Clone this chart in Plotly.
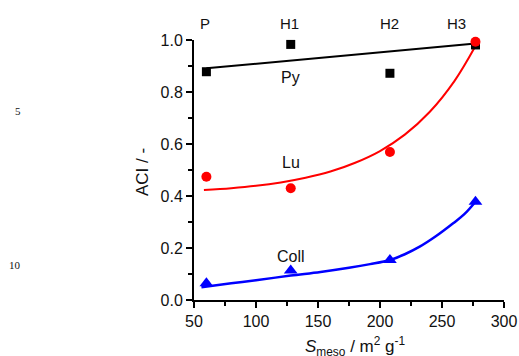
import plotly.graph_objects as go

# Measured points
samples_x = [60, 128, 208, 277]
py_vals = [0.878, 0.983, 0.872, 0.981]
lu_vals = [0.474, 0.430, 0.569, 0.993]
coll_vals = [0.064, 0.113, 0.154, 0.378]

# Fit curves
py_fit_x = [60, 277]
py_fit_y = [0.891, 0.987]
lu_fit_x = [58, 80, 100, 120, 140, 160, 180, 200, 220, 240, 260, 277]
lu_fit_y = [0.423, 0.430, 0.439, 0.452, 0.470, 0.494, 0.528, 0.573, 0.636, 0.723, 0.842, 0.977]
coll_fit_x = [56, 80, 100, 128, 152, 175, 192, 208, 220, 232, 245, 259, 268, 277]
coll_fit_y = [0.049, 0.064, 0.076, 0.094, 0.108, 0.124, 0.138, 0.154, 0.176, 0.205, 0.245, 0.295, 0.330, 0.378]

top_labels = ["P", "H1", "H2", "H3"]
top_label_x = [59, 127.4, 207.3, 262]
series_labels = ["Py", "Lu", "Coll"]
series_label_pos = [(128, 0.854), (128, 0.527), (128, 0.169)]

FONT = "Liberation Sans, Arial, sans-serif"
SERIF = "Liberation Serif, Times New Roman, serif"
BLUE = "#0000ff"
RED = "#ff0000"

# plot-area geometry in pixels (for converting label pixel positions)
L, R, T, B = 194, 15, 40, 56
W, H = 519, 356
PW, PH = W - L - R, H - T - B


def px_to_paper(px, py):
    return (px - L) / PW, (H - B - py) / PH


def x_to_paper(xv):
    return (xv - 50) / 250


fig = go.Figure()
fig.add_trace(go.Scatter(x=py_fit_x, y=py_fit_y, mode="lines",
                         line=dict(color="black", width=2), cliponaxis=False))
fig.add_trace(go.Scatter(x=lu_fit_x, y=lu_fit_y, mode="lines", line_shape="spline",
                         line=dict(color=RED, width=2), cliponaxis=False))
fig.add_trace(go.Scatter(x=coll_fit_x, y=coll_fit_y, mode="lines", line_shape="spline",
                         line=dict(color=BLUE, width=2.5), cliponaxis=False))
fig.add_trace(go.Scatter(x=samples_x, y=py_vals, mode="markers",
                         marker=dict(symbol="square", size=9, color="black"), cliponaxis=False))
fig.add_trace(go.Scatter(x=samples_x, y=lu_vals, mode="markers",
                         marker=dict(symbol="circle", size=10, color=RED), cliponaxis=False))
fig.add_trace(go.Scatter(x=samples_x, y=coll_vals, mode="markers",
                         marker=dict(symbol="triangle-up", size=12, color=BLUE), cliponaxis=False))

annotations = []


def ann(x, y, text, size, family=FONT, **kw):
    annotations.append(dict(x=x, y=y, xref="paper", yref="paper", text=text, showarrow=False,
                            xanchor="center", yanchor="middle",
                            font=dict(family=family, size=size, color="#111"), **kw))


for lab, xv in zip(top_labels, top_label_x):
    ann(x_to_paper(xv), 1.065, lab, 15)
for lab, (xv, yv) in zip(series_labels, series_label_pos):
    ann(x_to_paper(xv), yv, lab, 16)

ax, ay = px_to_paper(142, 172)
ann(ax, ay, "ACI / -", 17, textangle=-90)
tx, ty = px_to_paper(355, 346)
ann(tx, ty, "<i>S</i><sub>meso</sub> / m<sup>2</sup> g<sup>-1</sup>", 17)
m5x, m5y = px_to_paper(18, 111)
ann(m5x, m5y, "5", 11, family=SERIF)
m10x, m10y = px_to_paper(15, 265)
ann(m10x, m10y, "10", 11, family=SERIF)

fig.update_layout(
    width=W, height=H,
    margin=dict(l=L, r=R, t=T, b=B, autoexpand=False),
    paper_bgcolor="white", plot_bgcolor="white",
    showlegend=False,
    annotations=annotations,
    font=dict(family=FONT, size=16, color="#111"),
)
fig.update_xaxes(range=[50, 300], tickvals=[50, 100, 150, 200, 250, 300], automargin=False,
                 ticks="outside", ticklen=6, tickwidth=1.5, tickcolor="black",
                 showline=True, linecolor="black", linewidth=2, showgrid=False, zeroline=False,
                 minor=dict(dtick=25, tick0=50, ticks="outside", ticklen=4, tickwidth=1.5, tickcolor="black"),
                 tickfont=dict(family=FONT, size=16, color="#111"))
fig.update_yaxes(range=[0, 1], tickvals=[0, 0.2, 0.4, 0.6, 0.8, 1.0], tickformat=".1f", automargin=False,
                 ticks="outside", ticklen=6, tickwidth=1.5, tickcolor="black",
                 showline=True, linecolor="black", linewidth=2, showgrid=False, zeroline=False,
                 minor=dict(dtick=0.1, tick0=0, ticks="outside", ticklen=4, tickwidth=1.5, tickcolor="black"),
                 tickfont=dict(family=FONT, size=16, color="#111"))

fig.write_html("out.html")
